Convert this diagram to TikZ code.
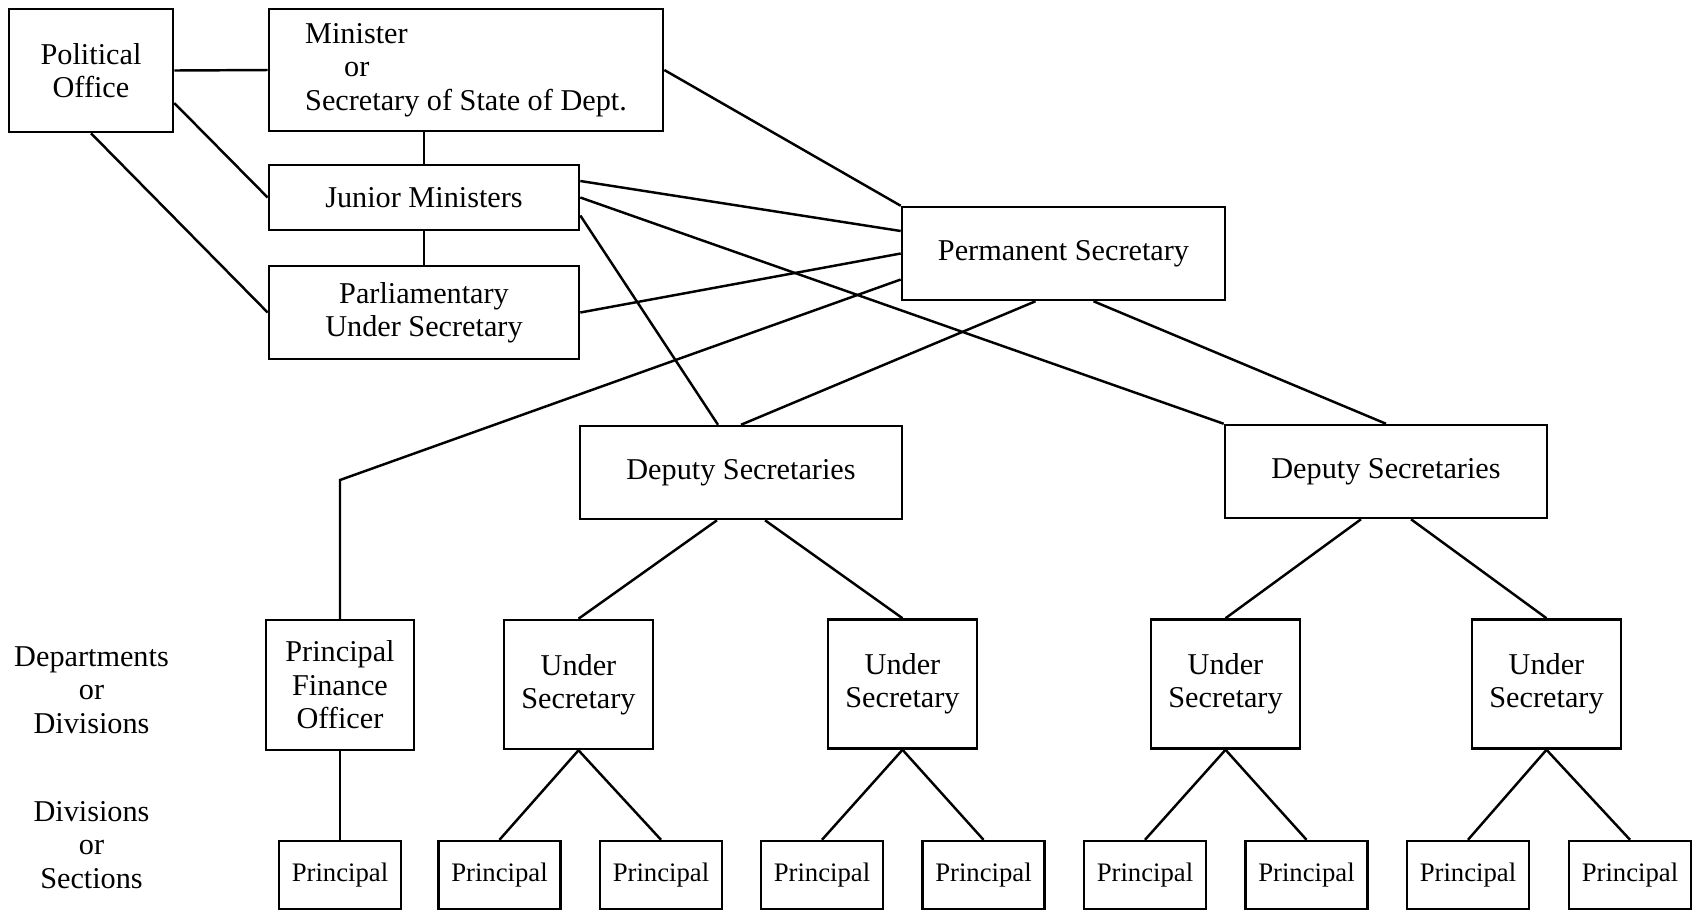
\documentclass[tikz,border=0pt]{standalone}
\usepackage{fontspec}
\setmainfont{Liberation Serif}
\usepackage{tikz}

\tikzset{
  box/.style={draw, line width=0.7pt, align=center, inner sep=0pt},
  wbox/.style={box, minimum width=3.22cm, minimum height=0.93cm},
  usbox/.style={box, minimum width=1.49cm, minimum height=1.29cm},
  pbox/.style={box, minimum width=1.22cm, minimum height=0.68cm, font=\fontsize{7.6pt}{9pt}\selectfont},
  link/.style={line width=0.7pt}
}

\begin{document}
\begin{tikzpicture}[x=0.01cm, y=-0.01cm, font=\fontsize{8.6pt}{9.5pt}\selectfont]
        \useasboundingbox (0,0) rectangle (1700,911);

        % Livello politico
        \node[box, minimum width=1.64cm, minimum height=1.23cm] (PO) at (91,70.5) {Political\\Office};
        \node[box, minimum width=3.94cm, minimum height=1.22cm, align=left] (MIN) at (466,70)
            {Minister\\\hspace*{0.39cm}or\\Secretary of State of Dept.};
        \node[box, minimum width=3.10cm, minimum height=0.65cm] (JM) at (424,197.5) {Junior Ministers};
        \node[box, minimum width=3.10cm, minimum height=0.93cm] (PUS) at (424,312.5) {Parliamentary\\Under Secretary};

        % Livello amministrativo
        \node[box, minimum width=3.23cm, minimum height=0.93cm] (PS) at (1063.5,253.5) {Permanent Secretary};
        \node[wbox] (DS1) at (741,472.5) {Deputy Secretaries};
        \node[wbox] (DS2) at (1386,471.5) {Deputy Secretaries};

        \node[box, minimum width=1.48cm, minimum height=1.30cm] (PFO) at (340,685) {Principal\\Finance\\Officer};
        \node[usbox] (US1) at (578.5,684.5) {Under\\Secretary};
        \node[usbox] (US2) at (902.5,684) {Under\\Secretary};
        \node[usbox] (US3) at (1225.5,684) {Under\\Secretary};
        \node[usbox] (US4) at (1546.5,684) {Under\\Secretary};

        \node[pbox] (P0) at (340,875) {Principal};
        \node[pbox] (P1) at (499.5,875) {Principal};
        \node[pbox] (P2) at (661,875) {Principal};
        \node[pbox] (P3) at (822,875) {Principal};
        \node[pbox] (P4) at (983.5,875) {Principal};
        \node[pbox] (P5) at (1145,875) {Principal};
        \node[pbox] (P6) at (1306.5,875) {Principal};
        \node[pbox] (P7) at (1468,875) {Principal};
        \node[pbox] (P8) at (1630,875) {Principal};

        % Etichette a sinistra
        \node[align=center] (lev1) at (91.5,690) {Departments\\or\\Divisions};
        \node[align=center] (lev2) at (91.5,845) {Divisions\\or\\Sections};

        % Collegamenti
        \coordinate (knee) at (340,480);

        \draw[link] (PO.east) -- (MIN.west);
        \draw[link] ([yshift=-0.325cm]PO.east) -- (JM.west);
        \draw[link] (PO.south) -- (PUS.west);
        \draw[link] (JM.north) -- (JM.north |- MIN.south);
        \draw[link] (JM.south) -- (PUS.north);
        \draw[link] (MIN.east) -- (PS.north west);
        \draw[link] ([yshift=0.165cm]JM.east) -- ([yshift=0.225cm]PS.west);
        \draw[link] (JM.east) -- (DS2.north west);
        \draw[link] ([yshift=-0.18cm]JM.east) -- ([xshift=-0.23cm]DS1.north);
        \draw[link] (PUS.east) -- (PS.west);
        \draw[link] ([yshift=-0.26cm]PS.west) -- (knee) -- (PFO.north);
        \draw[link] ([xshift=-0.28cm]PS.south) -- (DS1.north);
        \draw[link] ([xshift=0.30cm]PS.south) -- (DS2.north);

        \draw[link] ([xshift=-0.24cm]DS1.south) -- (US1.north);
        \draw[link] ([xshift=0.24cm]DS1.south) -- (US2.north);
        \draw[link] ([xshift=-0.25cm]DS2.south) -- (US3.north);
        \draw[link] ([xshift=0.25cm]DS2.south) -- (US4.north);

        \draw[link] (PFO.south) -- (P0.north);
        \draw[link] (US1.south) -- (P1.north);
        \draw[link] (US1.south) -- (P2.north);
        \draw[link] (US2.south) -- (P3.north);
        \draw[link] (US2.south) -- (P4.north);
        \draw[link] (US3.south) -- (P5.north);
        \draw[link] (US3.south) -- (P6.north);
        \draw[link] (US4.south) -- (P7.north);
        \draw[link] (US4.south) -- (P8.north);
    \end{tikzpicture}
\end{document}
